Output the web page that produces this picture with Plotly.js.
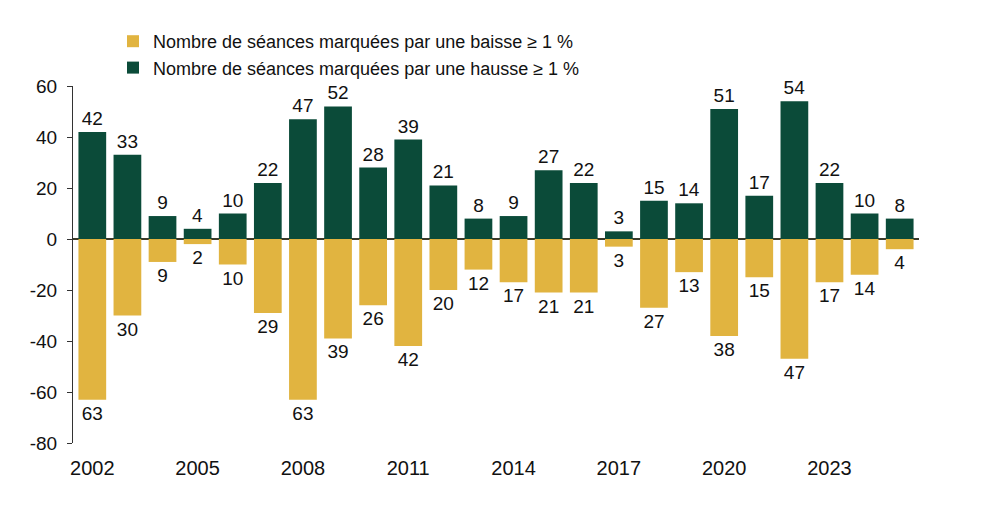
<!DOCTYPE html>
<html>
<head>
<meta charset="utf-8">
<script src="https://cdn.plot.ly/plotly-3.0.1.min.js"></script>
<style>
  html, body { margin: 0; padding: 0; background: #ffffff; }
  #chart { width: 990px; height: 508px; }
</style>
</head>
<body>
<div id="chart"></div>
<script>
// Années couvertes
const years = [2002, 2003, 2004, 2005, 2006, 2007, 2008, 2009, 2010, 2011, 2012, 2013,
               2014, 2015, 2016, 2017, 2018, 2019, 2020, 2021, 2022, 2023, 2024, 2025];

// Nombre de séances en baisse d'au moins 1 % (affiché sous l'axe)
const baisse = [63, 30, 9, 2, 10, 29, 63, 39, 26, 42, 20, 12,
                17, 21, 21, 3, 27, 13, 38, 15, 47, 17, 14, 4];

// Nombre de séances en hausse d'au moins 1 %
const hausse = [42, 33, 9, 4, 10, 22, 47, 52, 28, 39, 21, 8,
                9, 27, 22, 3, 15, 14, 51, 17, 54, 22, 10, 8];

const xTicks = [2002, 2005, 2008, 2011, 2014, 2017, 2020, 2023];
const yTicks = [-80, -60, -40, -20, 0, 20, 40, 60];

const nomBaisse = 'Nombre de séances marquées par une baisse ≥ 1 %';
const nomHausse = 'Nombre de séances marquées par une hausse ≥ 1 %';

const FONT = '"Liberation Sans", Arial, sans-serif';
const GOLD = '#e1b440';
const GREEN = '#0b4b39';

const traces = [
  {
    type: 'bar',
    name: nomBaisse,
    x: years,
    y: baisse.map(v => -v),
    text: baisse.map(String),
    texttemplate: '%{text}',
    textposition: 'outside',
    textfont: { family: FONT, size: 19, color: '#111111' },
    cliponaxis: false,
    marker: { color: GOLD },
    hoverinfo: 'x+text'
  },
  {
    type: 'bar',
    name: nomHausse,
    x: years,
    y: hausse,
    text: hausse.map(String),
    texttemplate: '%{text}',
    textposition: 'outside',
    textfont: { family: FONT, size: 19, color: '#111111' },
    cliponaxis: false,
    marker: { color: GREEN },
    hoverinfo: 'x+y'
  }
];

const layout = {
  width: 990,
  height: 508,
  margin: { l: 73, r: 71, t: 84, b: 65 },
  paper_bgcolor: '#ffffff',
  plot_bgcolor: '#ffffff',
  font: { family: FONT, size: 18, color: '#111111' },
  barmode: 'overlay',
  bargap: 0.21,
  showlegend: true,
  legend: {
    orientation: 'v',
    x: 40 / 846,
    xref: 'paper',
    xanchor: 'left',
    y: 1 - 23 / 508,
    yref: 'container',
    yanchor: 'top',
    font: { family: FONT, size: 18, color: '#111111' },
    traceorder: 'normal',
    itemwidth: 30,
    bgcolor: 'rgba(0,0,0,0)'
  },
  xaxis: {
    range: [2001.45, 2025.55],
    tickmode: 'array',
    tickvals: xTicks,
    ticktext: xTicks.map(String),
    showline: false,
    showgrid: false,
    zeroline: false,
    ticks: '',
    ticklabelstandoff: 11,
    tickfont: { family: FONT, size: 20, color: '#111111' },
    fixedrange: true
  },
  yaxis: {
    range: [-80, 60],
    tickmode: 'array',
    tickvals: yTicks,
    ticktext: yTicks.map(String),
    showline: true,
    linecolor: '#333333',
    linewidth: 1,
    ticks: 'outside',
    ticklen: 5,
    tickcolor: '#333333',
    tickwidth: 1,
    showgrid: false,
    zeroline: true,
    zerolinecolor: '#3a3a2a',
    zerolinewidth: 1.3,
    ticklabelstandoff: 6,
    tickfont: { family: FONT, size: 19, color: '#111111' },
    fixedrange: true
  }
};

Plotly.newPlot('chart', traces, layout, { displayModeBar: false, staticPlot: true });
</script>
</body>
</html>
